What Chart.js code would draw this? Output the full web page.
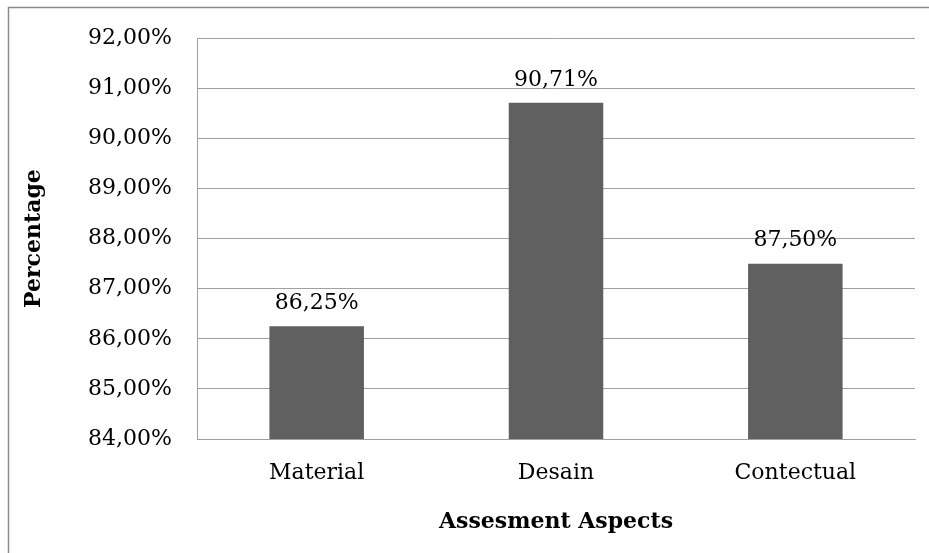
<!DOCTYPE html>
<html>
<head>
<meta charset="utf-8">
<script src="https://cdn.jsdelivr.net/npm/chart.js@4/dist/chart.umd.min.js"></script>
<style>
  html, body { margin: 0; padding: 0; background: #fff; }
  #wrap { position: relative; width: 929px; height: 553px; }
</style>
</head>
<body>
<div id="wrap"><canvas id="chart" width="929" height="553"></canvas></div>
<script>
// data
const aspects = ['Material', 'Desain', 'Contectual'];
const percentages = [86.25, 90.71, 87.50];
const yMin = 84;
const yMax = 92;

const fmt = v => v.toFixed(2).replace('.', ',') + '%';
const serif = '"DejaVu Serif", serif';

// outer frame: only the top and left edges are visible (picture is cropped)
const framePlugin = {
    id: 'frame',
    beforeDraw(chart) {
        const ctx = chart.ctx;
        ctx.save();
        ctx.fillStyle = '#fff';
        ctx.fillRect(0, 0, chart.width, chart.height);
        ctx.strokeStyle = '#8c8c8c';
        ctx.lineWidth = 1.5;
        ctx.beginPath();
        ctx.moveTo(8.5, chart.height);
        ctx.lineTo(8.5, 7.5);
        ctx.lineTo(chart.width, 7.5);
        ctx.stroke();
        ctx.restore();
    }
};

// value labels above bars
const valueLabels = {
    id: 'valueLabels',
    afterDatasetsDraw(chart) {
        const ctx = chart.ctx;
        const meta = chart.getDatasetMeta(0);
        ctx.save();
        ctx.font = '22px ' + serif;
        ctx.fillStyle = '#000';
        ctx.textAlign = 'center';
        ctx.textBaseline = 'bottom';
        meta.data.forEach((bar, i) => {
            ctx.fillText(fmt(percentages[i]), bar.x, bar.y - 12);
        });
        ctx.restore();
    }
};

new Chart(document.getElementById('chart'), {
    type: 'bar',
    data: {
        labels: aspects,
        datasets: [{
            data: percentages,
            backgroundColor: '#606060',
            borderWidth: 0,
            categoryPercentage: 1,
            barPercentage: 0.395
        }]
    },
    options: {
        responsive: false,
        animation: false,
        layout: { padding: { top: 37, right: 14, left: 0, bottom: 0 } },
        plugins: {
            legend: { display: false },
            tooltip: { enabled: false }
        },
        scales: {
            x: {
                grid: { display: false },
                border: { color: '#a0a0a0', width: 1 },
                ticks: {
                    color: '#000',
                    font: { family: serif, size: 22 },
                    padding: 13
                },
                title: {
                    display: true,
                    text: 'Assesment Aspects',
                    color: '#000',
                    font: { family: serif, size: 22, weight: 'bold' },
                    padding: { top: 0, bottom: 18 }
                },
                afterFit(scale) { scale.height = 114; }
            },
            y: {
                min: yMin,
                max: yMax,
                grid: { color: '#a0a0a0', drawTicks: false },
                border: { color: '#a0a0a0', width: 1 },
                ticks: {
                    stepSize: 1,
                    color: '#000',
                    font: { family: serif, size: 22 },
                    padding: 25,
                    callback: v => fmt(v)
                },
                title: {
                    display: true,
                    text: 'Percentage',
                    color: '#000',
                    font: { family: serif, size: 22, weight: 'bold' },
                    padding: { top: 21, bottom: 0 }
                },
                afterFit(scale) { scale.width = 197; }
            }
        }
    },
    plugins: [framePlugin, valueLabels]
});
</script>
</body>
</html>
